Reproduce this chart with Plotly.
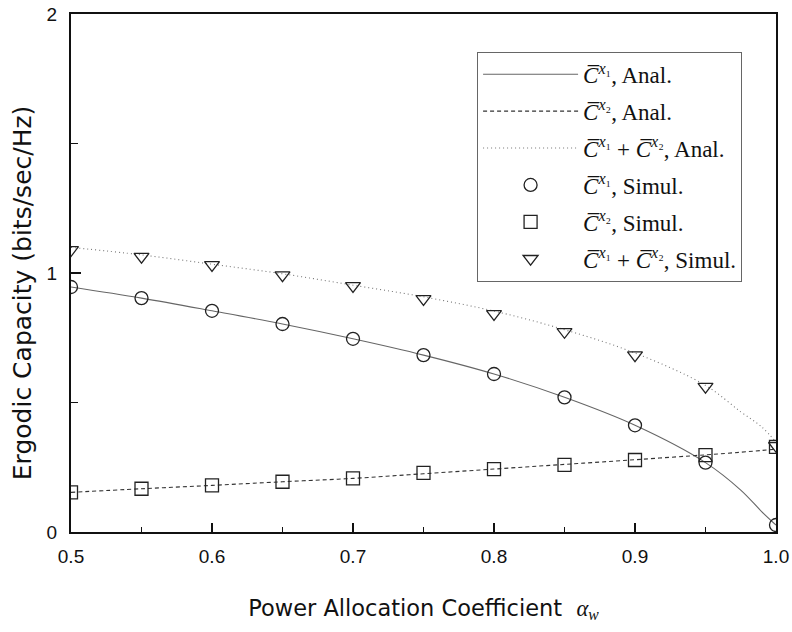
import plotly.graph_objects as go

# Data
alpha_sim = [0.5, 0.55, 0.6, 0.65, 0.7, 0.75, 0.8, 0.85, 0.9, 0.95, 1.0]
c1_sim = [0.946, 0.903, 0.854, 0.803, 0.746, 0.683, 0.610, 0.520, 0.412, 0.268, 0.027]
c2_sim = [0.153, 0.167, 0.180, 0.194, 0.207, 0.228, 0.243, 0.259, 0.278, 0.297, 0.329]
sum_sim = [1.089, 1.063, 1.031, 0.992, 0.950, 0.900, 0.842, 0.773, 0.683, 0.561, 0.333]

alpha_an = [0.5, 0.55, 0.6, 0.65, 0.7, 0.75, 0.8, 0.85, 0.9, 0.95, 0.975, 0.99, 1.0]
c1_an = [0.946, 0.903, 0.854, 0.803, 0.746, 0.683, 0.610, 0.520, 0.412, 0.268, 0.162, 0.078, 0.027]
c2_an = [0.153, 0.167, 0.180, 0.194, 0.207, 0.225, 0.243, 0.261, 0.279, 0.298, 0.308, 0.315, 0.320]
sum_an = [1.099, 1.070, 1.034, 0.997, 0.953, 0.908, 0.853, 0.781, 0.691, 0.566, 0.464, 0.405, 0.347]

x_ticks = [0.5, 0.6, 0.7, 0.8, 0.9, 1.0]
x_ticklabels = ["0.5", "0.6", "0.7", "0.8", "0.9", "1.0"]
y_ticks = [0, 1, 2]
y_ticklabels = ["0", "1", "2"]

CB = "<i>C\u0305</i>"
L1 = CB + "<sup><i>x</i>\u2081</sup>"
L2 = CB + "<sup><i>x</i>\u2082</sup>"
names = [
    L1 + ", Anal.",
    L2 + ", Anal.",
    L1 + " + " + L2 + ", Anal.",
    L1 + ", Simul.",
    L2 + ", Simul.",
    L1 + " + " + L2 + ", Simul.",
]

fig = go.Figure()
fig.add_trace(go.Scatter(x=alpha_an, y=c1_an, mode="lines", name=names[0], legendgroup="g1",
                         line=dict(color="#666666", width=1.1, shape="spline")))
fig.add_trace(go.Scatter(x=alpha_an, y=c2_an, mode="lines", name=names[1], legendgroup="g2",
                         line=dict(color="#333333", width=1.1, dash="4px,3px", shape="spline")))
fig.add_trace(go.Scatter(x=alpha_an, y=sum_an, mode="lines", name=names[2], legendgroup="g3",
                         line=dict(color="#777777", width=1.1, dash="1px,3px", shape="spline")))
mk = dict(color="#222222", size=13, line=dict(width=1.3, color="#222222"))
fig.add_trace(go.Scatter(x=alpha_sim, y=c1_sim, mode="markers", name=names[3], legendgroup="g4",
                         marker=dict(symbol="circle-open", **mk)))
fig.add_trace(go.Scatter(x=alpha_sim, y=c2_sim, mode="markers", name=names[4], legendgroup="g5",
                         marker=dict(symbol="square-open", **mk)))
fig.add_trace(go.Scatter(x=alpha_sim, y=sum_sim, mode="markers", name=names[5], legendgroup="g6",
                         marker=dict(symbol="triangle-down-open", **mk)))

fig.update_layout(
    width=792, height=632,
    margin=dict(l=71, r=16, t=14, b=100, autoexpand=False),
    paper_bgcolor="white", plot_bgcolor="white",
    font=dict(family="Liberation Sans, Arial, sans-serif", color="#111111", size=19),
    showlegend=True,
    legend=dict(
        x=0.576, y=0.927, xanchor="left", yanchor="top",
        bgcolor="white", bordercolor="#666666", borderwidth=1,
        font=dict(family="Liberation Serif, Times New Roman, serif", size=23, color="#111111"),
        itemwidth=95, tracegroupgap=4, traceorder="grouped",
    ),
    annotations=[dict(
        text="Ergodic Capacity (bits/sec/Hz)", textangle=-90,
        xref="paper", yref="paper", x=-0.0695, y=0.461,
        xanchor="center", yanchor="middle", showarrow=False,
        font=dict(family="DejaVu Sans, sans-serif", size=25, color="#111111"),
    )],
)
fig.update_xaxes(
    range=[0.5, 1.0], tickmode="array", tickvals=x_ticks, ticktext=x_ticklabels,
    ticks="inside", ticklen=9, tickwidth=1.5, tickcolor="#111111",
    minor=dict(ticks="inside", dtick=0.05, ticklen=5, tickwidth=1.2, tickcolor="#111111"),
    showline=True, linewidth=2, linecolor="#111111", mirror=True,
    showgrid=False, zeroline=False, ticklabelstandoff=6, automargin=False,
    tickfont=dict(size=19),
    title=dict(text="Power Allocation Coefficient  <span style=\"font-family:Liberation Serif\"><i>\u03b1</i><sub><i>w</i></sub></span>",
               font=dict(family="DejaVu Sans, sans-serif", size=22.5), standoff=34),
)
fig.update_yaxes(
    range=[0, 2], tickmode="array", tickvals=y_ticks, ticktext=y_ticklabels,
    ticks="inside", ticklen=10, tickwidth=1.5, tickcolor="#111111",
    minor=dict(ticks="inside", dtick=0.5, ticklen=7, tickwidth=1.2, tickcolor="#111111"),
    showline=True, linewidth=2, linecolor="#111111", mirror=True,
    showgrid=False, zeroline=False, ticklabelstandoff=8, automargin=False,
    tickfont=dict(size=19),
)

fig.write_html("out.html")
